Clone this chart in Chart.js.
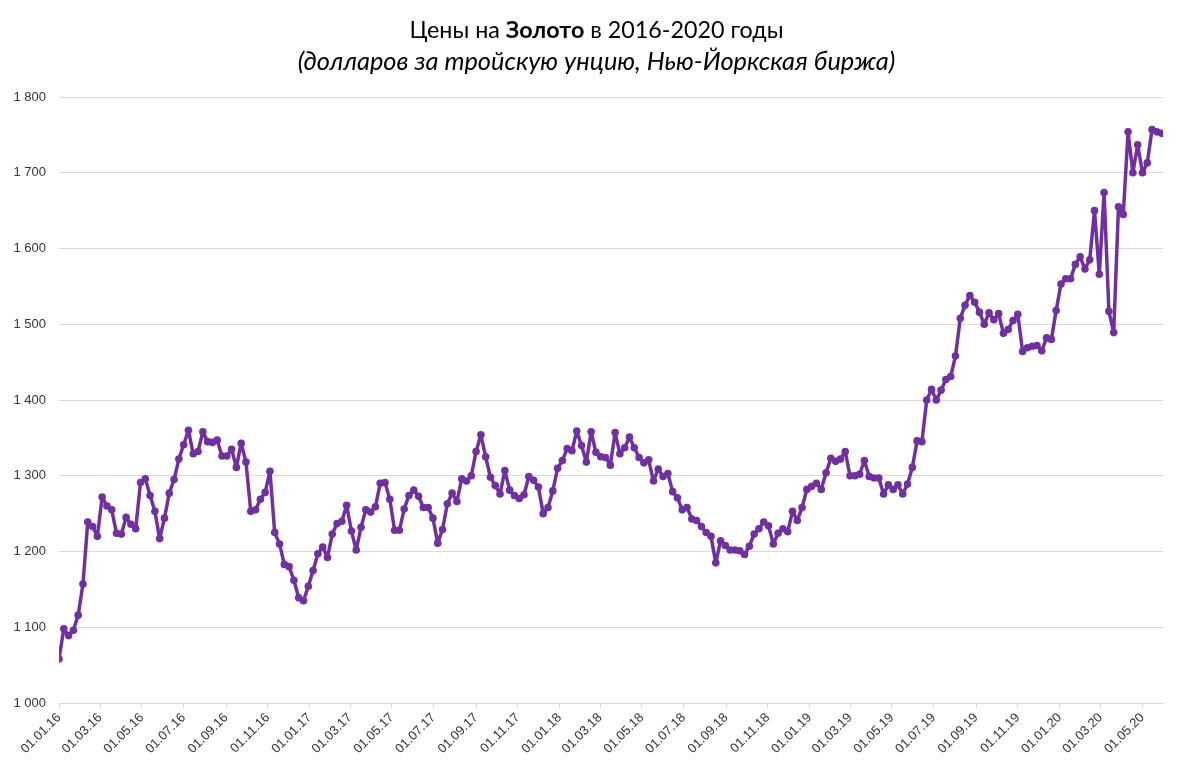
<!DOCTYPE html>
<html>
<head>
<meta charset="utf-8">
<script src="https://cdn.jsdelivr.net/npm/chart.js@4.4.1/dist/chart.umd.min.js"></script>
<style>
  html, body { margin: 0; padding: 0; background: #ffffff; }
  #wrap { width: 1193px; height: 774px; position: relative; }
</style>
</head>
<body>
<div id="wrap"><canvas id="c" width="1193" height="774"></canvas></div>
<script>
// ---- Data (weekly closing prices) ----
const startDate = '01.01.16';   // first weekly observation
const stepDays = 7;             // weekly data

const values2016 = [1058,1098,1089,1096,1116,1157,1239,1233,1220,1272,1260,1255,1224,1223,1245,1236,1230,1291,1296,1274,1253,1217,1244,1277,1295,1322,1341,1360,1329,1332,1358,1345,1344,1347,1326,1326,1335,1311,1343,1318,1253,1255,1269,1278,1306,1225,1210,1183,1180,1162,1139,1135,1154];
const values2017 = [1175,1197,1206,1192,1223,1237,1240,1261,1227,1202,1232,1255,1252,1259,1290,1291,1269,1228,1228,1256,1274,1281,1273,1258,1258,1244,1211,1229,1263,1277,1266,1296,1293,1300,1332,1354,1325,1298,1287,1276,1307,1281,1274,1270,1275,1299,1294,1285,1250,1258,1280,1310];
const values2018 = [1320,1336,1333,1359,1340,1318,1358,1331,1325,1324,1314,1357,1329,1337,1351,1337,1324,1317,1321,1293,1309,1299,1303,1279,1271,1255,1258,1243,1241,1233,1225,1220,1185,1214,1208,1202,1202,1201,1196,1207,1223,1230,1239,1234,1210,1224,1230,1226,1253,1241,1258,1282];
const values2019 = [1286,1290,1282,1304,1323,1319,1322,1332,1300,1300,1302,1320,1299,1297,1297,1276,1288,1282,1288,1276,1289,1311,1346,1345,1400,1414,1400,1413,1427,1431,1458,1508,1525,1538,1529,1516,1500,1515,1506,1514,1488,1493,1505,1513,1464,1469,1471,1472,1465,1482,1480,1518];
const values2020 = [1553,1560,1560,1579,1589,1573,1585,1650,1566,1674,1517,1489,1655,1645,1754,1700,1737,1700,1713,1757,1754,1752];

const xTickLabels = ['01.01.16','01.03.16','01.05.16','01.07.16','01.09.16','01.11.16',
  '01.01.17','01.03.17','01.05.17','01.07.17','01.09.17','01.11.17',
  '01.01.18','01.03.18','01.05.18','01.07.18','01.09.18','01.11.18',
  '01.01.19','01.03.19','01.05.19','01.07.19','01.09.19','01.11.19',
  '01.01.20','01.03.20','01.05.20'];

const yMin = 1000, yMax = 1800, yStep = 100;

const titleParts = [
  { text: 'Цены на ', bold: false },
  { text: 'Золото', bold: true },
  { text: ' в 2016-2020 годы', bold: false }
];
const subtitle = '(долларов за тройскую унцию, Нью-Йоркская биржа)';

// ---- Build ----
function parseDay(s) {
  const [d, m, y] = s.split('.').map(Number);
  return Date.UTC(2000 + y, m - 1, d) / 86400000;
}
const day0 = parseDay(startDate);
const allValues = [].concat(values2016, values2017, values2018, values2019, values2020);
const points = allValues.map((v, i) => ({ x: i * stepDays, y: v }));
const tickDays = xTickLabels.map(s => parseDay(s) - day0);
const xMax = (allValues.length - 1) * stepDays + 2;

function fmt(v) {
  return String(v).replace(/\B(?=(\d{3})+(?!\d))/g, ' ');
}

const FONT = "'Liberation Sans', Arial, sans-serif";
const TFONT = "Lato, 'Open Sans', sans-serif";

const titlePlugin = {
  id: 'titlePlugin',
  afterDraw(chart) {
    const ctx = chart.ctx;
    const cx = chart.width / 2;
    ctx.save();
    ctx.fillStyle = '#000000';
    ctx.textBaseline = 'alphabetic';
    ctx.textAlign = 'left';
    const size = 23.3;
    let total = 0;
    const widths = titleParts.map(p => {
      ctx.font = (p.bold ? 'bold ' : '') + size + 'px ' + TFONT;
      const w = ctx.measureText(p.text).width;
      total += w;
      return w;
    });
    let x = cx - total / 2;
    titleParts.forEach((p, i) => {
      ctx.font = (p.bold ? 'bold ' : '') + size + 'px ' + TFONT;
      ctx.fillText(p.text, x, 38);
      x += widths[i];
    });
    ctx.font = 'italic 25.4px ' + TFONT;
    ctx.textAlign = 'center';
    ctx.fillText(subtitle, cx, 70);
    ctx.restore();
  }
};

new Chart(document.getElementById('c'), {
  type: 'line',
  data: {
    datasets: [{
      data: points,
      borderColor: '#7030A0',
      backgroundColor: '#7030A0',
      borderWidth: 3.5,
      borderJoinStyle: 'round',
      borderCapStyle: 'round',
      pointRadius: 3.8,
      pointBorderWidth: 0,
      pointBackgroundColor: '#7030A0',
      tension: 0
    }]
  },
  options: {
    responsive: false,
    animation: false,
    layout: { padding: { top: 97, right: 30, bottom: 0, left: 0 } },
    plugins: { legend: { display: false }, tooltip: { enabled: false }, title: { display: false } },
    scales: {
      x: {
        type: 'linear',
        min: 0,
        max: xMax,
        afterBuildTicks(scale) { scale.ticks = tickDays.map(v => ({ value: v })); },
        afterFit(scale) { scale.height = 71; },
        ticks: {
          autoSkip: false,
          minRotation: 45,
          maxRotation: 45,
          padding: 2,
          color: '#333333',
          font: { family: FONT, size: 13 },
          callback(v, i) { return xTickLabels[i]; }
        },
        grid: { drawOnChartArea: false, drawTicks: true, tickLength: 5, color: '#d9d9d9' },
        border: { display: true, color: '#d9d9d9', width: 1 }
      },
      y: {
        min: yMin,
        max: yMax,
        afterFit(scale) { scale.width = 59; },
        ticks: {
          stepSize: yStep,
          padding: 13,
          color: '#333333',
          font: { family: FONT, size: 13 },
          callback(v) { return fmt(v); }
        },
        grid: { color: '#d9d9d9', drawTicks: false, lineWidth: 1 },
        border: { display: false }
      }
    }
  },
  plugins: [titlePlugin]
});
</script>
</body>
</html>
